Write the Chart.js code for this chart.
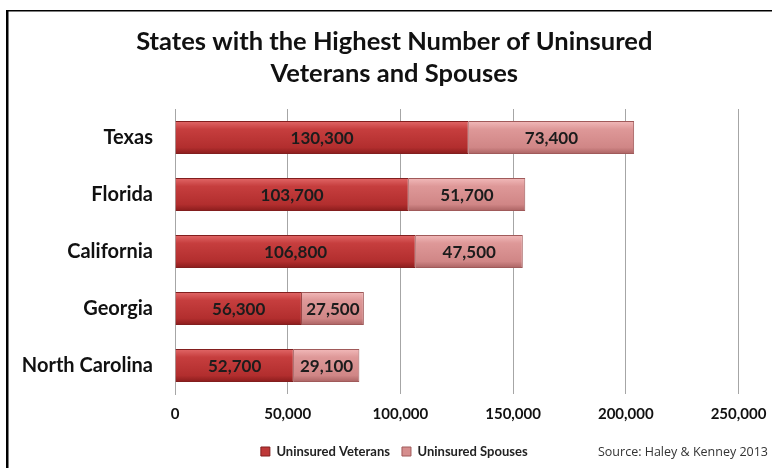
<!DOCTYPE html>
<html>
<head>
<meta charset="utf-8">
<script src="https://cdn.jsdelivr.net/npm/chart.js@4"></script>
<style>
  html, body { margin: 0; padding: 0; background: #fff; }
  #wrap { width: 772px; height: 468px; }
</style>
</head>
<body>
<div id="wrap"><canvas id="uninsuredChart"></canvas></div>
<script>
const states = ['Texas', 'Florida', 'California', 'Georgia', 'North Carolina'];
const veterans = [130300, 103700, 106800, 56300, 52700];
const spouses = [73400, 51700, 47500, 27500, 29100];
const xTicks = [0, 50000, 100000, 150000, 200000, 250000];
const sourceNote = 'Source: Haley & Kenney 2013';

const fmt = (v) => v.toLocaleString('en-US');

// colour stops for the shaded bars (top -> bottom)
const shades = [
    [[0, 'rgb(226, 104, 104)'], [0.25, 'rgb(198, 62, 62)'], [0.8, 'rgb(178, 46, 46)'], [1, 'rgb(138, 28, 28)']],
    [[0, 'rgb(242, 186, 186)'], [0.25, 'rgb(222, 152, 152)'], [0.8, 'rgb(208, 134, 134)'], [1, 'rgb(170, 98, 98)']]
];

// let the long state names run past the left padding instead of being clipped
const unclipY = {
    id: 'unclipY',
    afterLayout(chart) {
        chart.scales.y.left = 0;
    }
};

// vertical gradient on each bar, like the glossy office style
const barShading = {
    id: 'barShading',
    beforeDatasetsDraw(chart) {
        const ctx = chart.ctx;
        chart.data.datasets.forEach((ds, i) => {
            chart.getDatasetMeta(i).data.forEach((bar) => {
                const h = bar.height;
                const g = ctx.createLinearGradient(0, bar.y - h / 2, 0, bar.y + h / 2);
                shades[i].forEach(([p, c]) => g.addColorStop(p, c));
                bar.options = Object.assign({}, bar.options, { backgroundColor: g });
            });
        });
    }
};

// labels inside each bar segment
const barLabels = {
    id: 'barLabels',
    afterDatasetsDraw(chart) {
        const ctx = chart.ctx;
        ctx.save();
        ctx.font = 'bold 17px Lato';
        ctx.fillStyle = '#1c1c1c';
        ctx.textAlign = 'center';
        ctx.textBaseline = 'middle';
        chart.data.datasets.forEach((ds, i) => {
            chart.getDatasetMeta(i).data.forEach((bar, j) => {
                const cx = (bar.x + bar.base) / 2;
                ctx.fillText(fmt(ds.data[j]), cx, bar.y + 1);
            });
        });
        ctx.restore();
    }
};

// frame lines + source note
const frame = {
    id: 'frame',
    afterDraw(chart) {
        const ctx = chart.ctx;
        ctx.save();
        ctx.fillStyle = '#000';
        ctx.fillRect(6, 10, 766, 1.5);
        ctx.fillRect(6, 10, 2.5, 458);
        ctx.font = '12.5px "Open Sans"';
        ctx.fillStyle = '#333';
        ctx.textAlign = 'right';
        ctx.textBaseline = 'middle';
        ctx.fillText(sourceNote, 768, 452);
        ctx.restore();
    }
};

const ctx = document.getElementById('uninsuredChart').getContext('2d');
// eslint-disable-next-line no-undef
const chart = new Chart(ctx, {
    type: 'bar',
    data: {
        labels: states,
        datasets: [
            {
                label: 'Uninsured Veterans',
                data: veterans,
                backgroundColor: 'rgb(190, 56, 56)',
                borderColor: 'rgb(130, 30, 30)',
                borderWidth: 1
            },
            {
                label: 'Uninsured Spouses',
                data: spouses,
                backgroundColor: 'rgb(214, 142, 142)',
                borderColor: 'rgb(160, 90, 90)',
                borderWidth: 1
            }
        ]
    },
    options: {
        indexAxis: 'y',
        responsive: true,
        maintainAspectRatio: false,
        animation: false,
        layout: { padding: { top: 10, right: 33.5, bottom: 0, left: 50 } },
        categoryPercentage: 0.58,
        barPercentage: 1,
        scales: {
            x: {
                stacked: true,
                min: 0,
                max: 250000,
                afterBuildTicks: (scale) => { scale.ticks = xTicks.map(v => ({ value: v })); },
                afterFit: (scale) => { scale.height = 39; },
                grid: { color: '#a6a6a6', drawTicks: true, tickLength: 11, tickColor: 'rgba(0,0,0,0)' },
                border: { display: false },
                ticks: {
                    padding: 0,
                    color: '#111',
                    font: { family: 'Lato', size: 15, weight: 'bold' },
                    callback: (v) => fmt(v)
                }
            },
            y: {
                stacked: true,
                afterFit: (scale) => { scale.width = 125; },
                grid: { display: false },
                border: { display: true, color: '#a6a6a6' },
                ticks: {
                    padding: 14,
                    color: '#111',
                    font: { family: 'Lato', size: 20, weight: 'bold' }
                }
            }
        },
        plugins: {
            title: {
                display: true,
                text: ['States with the Highest Number of Uninsured', 'Veterans and Spouses'],
                color: '#111',
                font: { family: 'Lato', size: 25.5, weight: 'bold', lineHeight: 1.255 },
                padding: { top: 16, bottom: 19 }
            },
            legend: {
                position: 'bottom',
                labels: {
                    boxWidth: 9,
                    boxHeight: 9,
                    padding: 12,
                    color: '#222',
                    font: { family: 'Lato', size: 13, weight: 'bold' }
                }
            },
            tooltip: { enabled: false }
        }
    },
    plugins: [unclipY, barShading, barLabels, frame]
});
</script>
</body>
</html>
